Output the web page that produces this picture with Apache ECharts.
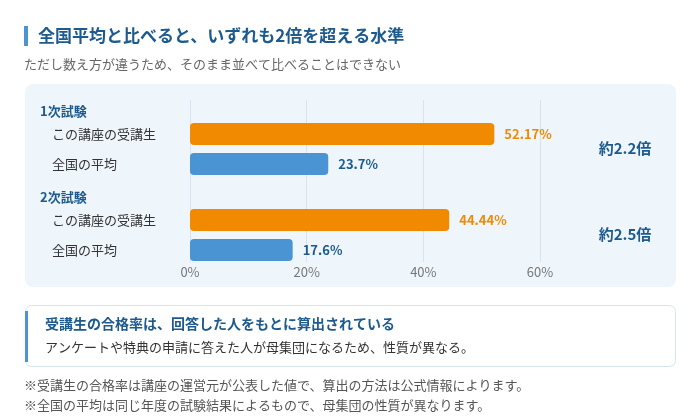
<!DOCTYPE html>
<html>
<head>
<meta charset="utf-8">
<script src="https://cdn.jsdelivr.net/npm/echarts@6/dist/echarts.min.js"></script>
<style>
html, body { margin: 0; padding: 0; background: #fff; }
#chart { width: 700px; height: 416px; }
</style>
</head>
<body>
<div id="chart"></div>
<script>
// データ
var groups = ['1次試験', '2次試験'];
var rowNames = ['この講座の受講生', '全国の平均'];
var courseRates = [52.17, 44.44];
var nationalRates = [23.7, 17.6];
var ratioLabels = ['約2.2倍', '約2.5倍'];
var xTicks = [0, 20, 40, 60];

var FONT = '"Noto Sans CJK JP", "Noto Sans", sans-serif';
var BLUE_DARK = '#1d5a8e';
var ORANGE = '#f28a00';
var BLUE = '#4a94d4';

var chart = echarts.init(document.getElementById('chart'));

var gridLeft = 190, gridRight = 160;
var groupTops = [119, 205];
var groupHeight = 60;

var grids = [{ left: gridLeft, right: gridRight, top: 100, height: 162 }];
var xAxes = [{
	gridIndex: 0, type: 'value', min: xTicks[0], max: xTicks[xTicks.length - 1], interval: 20,
	axisLine: { show: false }, axisTick: { show: false },
	splitLine: { lineStyle: { color: '#d9e3ed', width: 1 } },
	axisLabel: { color: '#777', fontSize: 13, fontFamily: FONT, margin: 4, formatter: '{value}%' }
}];
var yAxes = [{ gridIndex: 0, type: 'category', data: [''], show: false }];
var series = [];
var graphics = [];

// 背景パネル
graphics.push({ type: 'rect', z: -10, shape: { x: 25, y: 84, width: 651, height: 203, r: 8 }, style: { fill: '#eef5fb' } });
// タイトル
graphics.push({ type: 'rect', shape: { x: 24, y: 26, width: 4, height: 20 }, style: { fill: BLUE } });
graphics.push({ type: 'text', style: { x: 38, y: 36, text: '全国平均と比べると、いずれも2倍を超える水準', fill: BLUE_DARK, font: 'bold 17px ' + FONT, verticalAlign: 'middle' } });
graphics.push({ type: 'text', style: { x: 24, y: 64, text: 'ただし数え方が違うため、そのまま並べて比べることはできない', fill: '#666', font: '13px ' + FONT, verticalAlign: 'middle' } });

for (var g = 0; g < groups.length; g++) {
	var gi = g + 1;
	grids.push({ left: gridLeft, right: gridRight, top: groupTops[g], height: groupHeight });
	xAxes.push({ gridIndex: gi, type: 'value', min: xTicks[0], max: xTicks[xTicks.length - 1], show: false, splitLine: { show: false } });
	yAxes.push({
		gridIndex: gi, type: 'category', inverse: true, data: rowNames,
		axisLine: { show: false }, axisTick: { show: false },
		axisLabel: { align: 'left', margin: 138, color: '#333', fontSize: 13, fontFamily: FONT }
	});
	series.push({
		type: 'bar', xAxisIndex: gi, yAxisIndex: gi, barWidth: 22,
		label: { show: true, position: 'right', distance: 10, fontSize: 13, fontWeight: 'bold', fontFamily: FONT, formatter: '{c}%' },
		data: [
			{ value: courseRates[g], itemStyle: { color: ORANGE, borderRadius: 4 }, label: { color: ORANGE } },
			{ value: nationalRates[g], itemStyle: { color: BLUE, borderRadius: 4 }, label: { color: BLUE_DARK } }
		]
	});
	// 見出し
	graphics.push({ type: 'text', style: { x: 40, y: groupTops[g] - 8, text: groups[g], fill: BLUE_DARK, font: 'bold 13px ' + FONT, verticalAlign: 'middle' } });
	// 倍率
	graphics.push({ type: 'text', style: { x: 625, y: groupTops[g] + groupHeight / 2 - 1, text: ratioLabels[g], fill: BLUE_DARK, font: 'bold 15px ' + FONT, align: 'center', verticalAlign: 'middle' } });
}

// 補足ボックス
graphics.push({ type: 'rect', shape: { x: 25.5, y: 305.5, width: 650, height: 61, r: 6 }, style: { fill: '#fff', stroke: '#d6e4f0', lineWidth: 1 } });
graphics.push({ type: 'rect', shape: { x: 25, y: 311, width: 3, height: 51 }, style: { fill: BLUE } });
graphics.push({ type: 'text', style: { x: 45, y: 324, text: '受講生の合格率は、回答した人をもとに算出されている', fill: BLUE_DARK, font: 'bold 14px ' + FONT, verticalAlign: 'middle' } });
graphics.push({ type: 'text', style: { x: 45, y: 347, text: 'アンケートや特典の申請に答えた人が母集団になるため、性質が異なる。', fill: '#333', font: '13px ' + FONT, verticalAlign: 'middle' } });
// 注記
graphics.push({ type: 'text', style: { x: 24, y: 385, text: '※受講生の合格率は講座の運営元が公表した値で、算出の方法は公式情報によります。', fill: '#555', font: '13px ' + FONT, verticalAlign: 'middle' } });
graphics.push({ type: 'text', style: { x: 24, y: 405, text: '※全国の平均は同じ年度の試験結果によるもので、母集団の性質が異なります。', fill: '#555', font: '13px ' + FONT, verticalAlign: 'middle' } });

chart.setOption({
	animation: false,
	textStyle: { fontFamily: FONT },
	grid: grids,
	xAxis: xAxes,
	yAxis: yAxes,
	series: series,
	graphic: graphics
});
</script>
</body>
</html>
